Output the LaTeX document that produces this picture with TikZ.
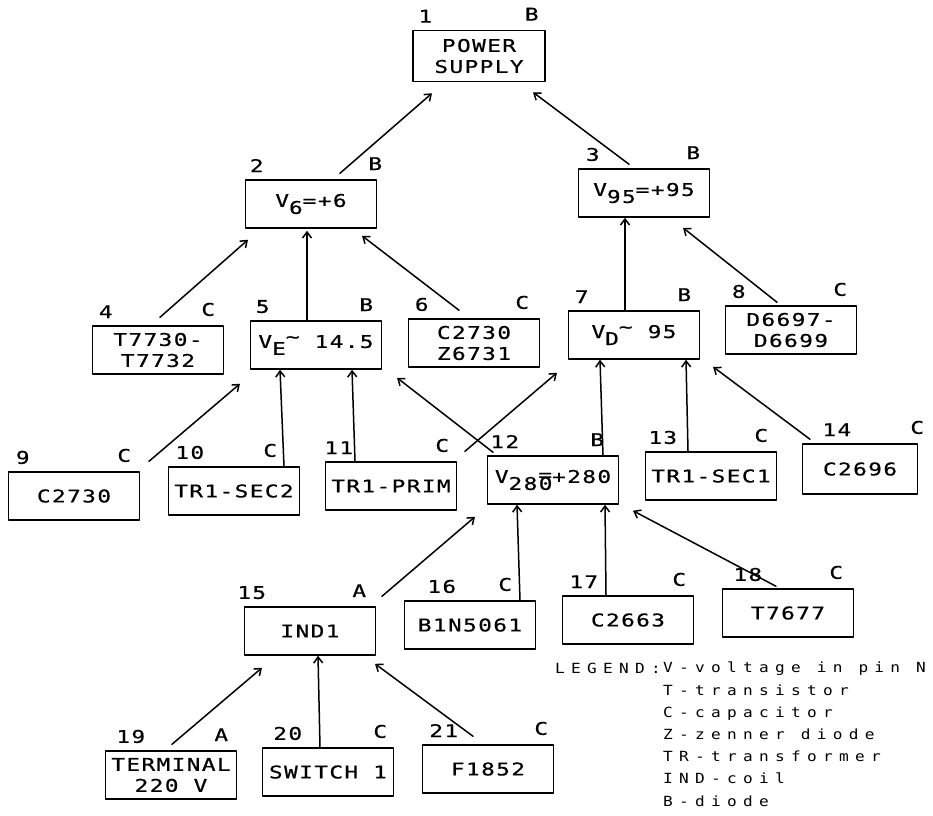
\documentclass[tikz,border=0pt]{standalone}
\usepackage{fontspec}
\usepackage{tikz}
\usetikzlibrary{arrows.meta}
\newfontfamily\plotfont{DejaVu Sans Mono}[FakeStretch=1.3, FakeBold=0.6, LetterSpace=8]
\newfontfamily\legfont{DejaVu Sans Mono}[FakeStretch=1.15, LetterSpace=45]
\newcommand{\pf}{\plotfont\fontsize{17.5}{21}\selectfont}
\newcommand{\lo}[1]{\raisebox{-7pt}{#1}}
\newcommand{\tl}{\raisebox{5pt}{\textasciitilde}}

\begin{document}
\begin{tikzpicture}[line cap=round,line join=round,x=1pt,y=-1pt,
  blk/.style={draw, line width=1.5pt, align=center, inner sep=0pt,
    minimum width=131, minimum height=48, font=\pf},
  num/.style={anchor=south, inner sep=0pt, yshift=7pt, font=\pf},
  typ/.style={anchor=south, inner sep=0pt, yshift=9pt, font=\pf},
  conn/.style={-{Straight Barb[length=6pt,width=9pt]}, line width=1.5pt}]

\useasboundingbox (0,0) rectangle (933,815);

\node[blk, minimum width=132, minimum height=51, label={[num,xshift=13]north west:1}, label={[typ,xshift=-14]north east:B}] (b1) at (479,56) {POWER\\SUPPLY};

\node[blk, label={[num,xshift=12]north west:2}, label={[typ,xshift=-2]north east:B}] (b2) at (311,204) {V\lo{6}=+6};
\node[blk, label={[num,xshift=15]north west:3}, label={[typ,xshift=-17]north east:B}] (b3) at (644,193) {V\lo{95}=+95};

\node[blk, label={[num,xshift=14]north west:4}, label={[typ,xshift=-16]north east:C}] (b4) at (158,350) {T7730-\\T7732};
\node[blk, label={[num,xshift=13]north west:5}, label={[typ,xshift=-16]north east:B}] (b5) at (316,345) {V\lo{E}\tl{} 14.5};
\node[blk, label={[num,xshift=14]north west:6}, label={[typ,xshift=-18]north east:C}] (b6) at (474,343) {C2730\\Z6731};
\node[blk, label={[num,xshift=14]north west:7}, label={[typ,xshift=-16]north east:B}] (b7) at (634,335) {V\lo{D}\tl{} 95};
\node[blk, label={[num,xshift=14]north west:8}, label={[typ,xshift=-17]north east:C}] (b8) at (791,330) {D6697-\\D6699};

\node[blk, label={[num,xshift=15]north west:9}, label={[typ,xshift=-16]north east:C}] (b9) at (74,496) {C2730};
\node[blk, label={[num,xshift=22]north west:10}, label={[typ,xshift=-30]north east:C}] (b10) at (234,491) {TR1-SEC2};
\node[blk, label={[num,xshift=14]north west:11}, label={[typ,xshift=-15]north east:C}] (b11) at (391,486) {TR1-PRIM};
\node[blk, label={[num,xshift=18]north west:12}, label={[typ,xshift=-22]north east:B}] (b12) at (553,480) {V\lo{280}\kern-14pt\raisebox{2pt}{=}+280};
\node[blk, label={[num,xshift=18]north west:13}, label={[typ,xshift=-16]north east:C}] (b13) at (711,476) {TR1-SEC1};
\node[blk, minimum width=115, minimum height=50, label={[num,xshift=35]north west:14}, label={[typ,xshift=-1]north east:C}] (b14) at (860,469) {C2696};

\node[blk, label={[num,xshift=8]north west:15}, label={[typ,xshift=-17]north east:A}] (b15) at (310,631) {IND1};
\node[blk, label={[num,xshift=38]north west:16}, label={[typ,xshift=-31]north east:C}] (b16) at (470,625) {B1N5061};
\node[blk, label={[num,xshift=22]north west:17}, label={[typ,xshift=-15]north east:C}] (b17) at (628,620) {C2663};
\node[blk, label={[num,xshift=26]north west:18}, label={[typ,xshift=-18]north east:C}] (b18) at (788,613) {T7677};

\node[blk, label={[num,xshift=26]north west:19}, label={[typ,xshift=-16]north east:A}] (b19) at (171,775) {TERMINAL\\220 V};
\node[blk, label={[num,xshift=26]north west:20}, label={[typ,xshift=-14]north east:C}] (b20) at (328,772) {SWITCH 1};
\node[blk, label={[num,xshift=22]north west:21}, label={[typ,xshift=-13]north east:C}] (b21) at (488,769) {F1852};

\draw[conn] ([xshift=29,yshift=6]b2.north) -- ([xshift=-47,yshift=-11]b1.south);
\draw[conn] ([xshift=-15,yshift=4]b3.north) -- ([xshift=54,yshift=-10]b1.south);

\draw[conn] ([xshift=2,yshift=8]b4.north) -- ([xshift=-63,yshift=-11]b2.south);
\draw[conn] ([xshift=-9]b5.north) -- ([xshift=-4,yshift=-2]b2.south);
\draw[conn] ([xshift=-15,yshift=8]b6.north) -- ([xshift=51,yshift=-7]b2.south);
\draw[conn] ([xshift=-9]b7.north) -- ([xshift=-19]b3.south);
\draw[conn] ([xshift=-14,yshift=3]b8.north) -- ([xshift=39,yshift=-10]b3.south);

\draw[conn] ([xshift=75,yshift=10]b9.north) -- ([xshift=-76,yshift=-14]b5.south);
\draw[conn] ([xshift=50]b10.north) -- ([xshift=-36]b5.south);
\draw[conn] ([xshift=-36]b11.north) -- ([xshift=36]b5.south);
\draw[conn] ([xshift=-60,yshift=3]b12.north) -- ([xshift=81,yshift=-8]b5.south);
\draw[conn] ([xshift=74,yshift=10]b11.north) -- ([xshift=-77,yshift=-13]b7.south);
\draw[conn] ([xshift=50]b12.north) -- ([xshift=-34]b7.south);
\draw[conn] ([xshift=-23]b13.north) -- ([xshift=52]b7.south);
\draw[conn] ([xshift=-50,yshift=4]b14.north) -- ([xshift=79,yshift=-7]b7.south);

\draw[conn] ([xshift=72,yshift=10]b15.north) -- ([xshift=-78,yshift=-12]b12.south);
\draw[conn] ([xshift=50]b16.north) -- ([xshift=-36]b12.south);
\draw[conn] ([xshift=-22]b17.north) -- ([xshift=52]b12.south);
\draw[conn] ([xshift=-12,yshift=2]b18.north) -- ([xshift=80,yshift=-6]b12.south);

\draw[conn] ([xshift=1,yshift=6]b19.north) -- ([xshift=-48,yshift=-12]b15.south);
\draw[conn] ([xshift=-8]b20.north) -- ([xshift=8]b15.south);
\draw[conn] ([xshift=-15,yshift=8]b21.north) -- ([xshift=65,yshift=-8]b15.south);

\node[font=\legfont\fontsize{14}{22.2}\selectfont, anchor=base west, inner sep=0pt] (leg) at (555,673) {LEGEND:};
\node[font=\legfont\fontsize{14}{22.2}\selectfont, align=left, anchor=base west, inner sep=0pt] (legtxt) at (663,806)
  {V-voltage in pin N\\T-transistor\\C-capacitor\\Z-zenner diode\\TR-transformer\\IND-coil\\B-diode};
\end{tikzpicture}
\end{document}
